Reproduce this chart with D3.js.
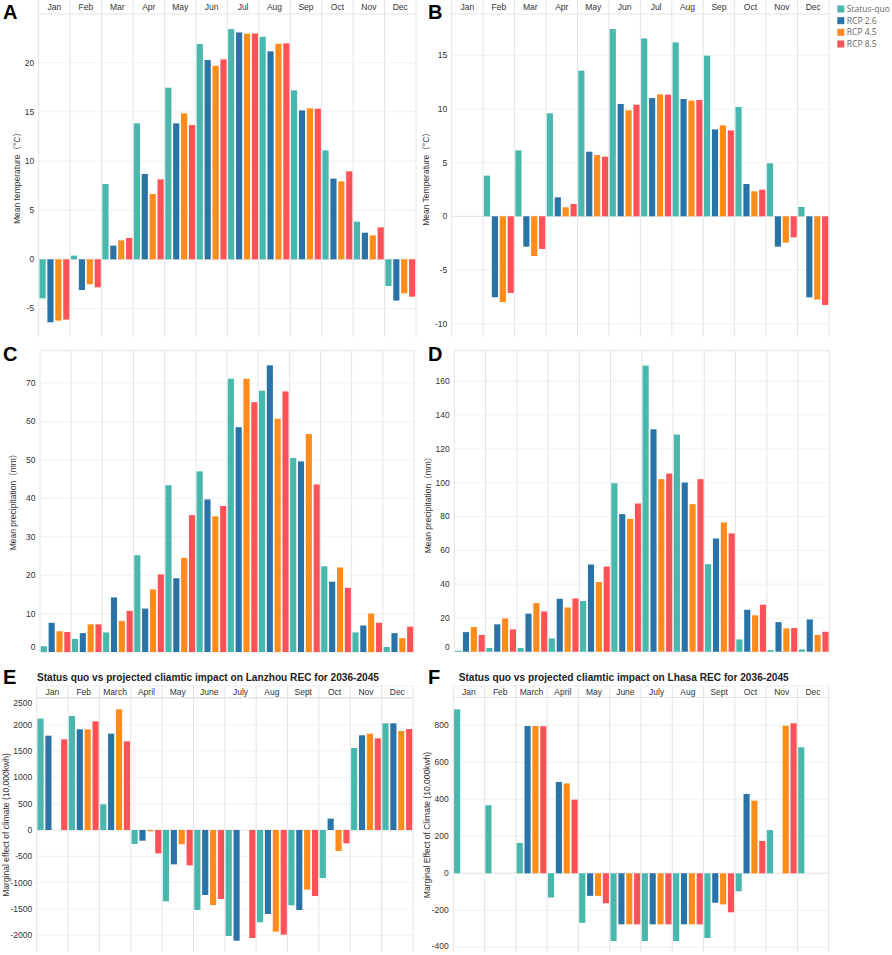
<!DOCTYPE html>
<html><head><meta charset="utf-8">
<script src="https://cdn.jsdelivr.net/npm/d3@7"></script>
<style>body{margin:0;background:#fff}svg{display:block}</style>
</head><body><svg id="c" width="892" height="955"></svg>
<script>
// ---------- data ----------
const months = ["Jan","Feb","Mar","Apr","May","Jun","Jul","Aug","Sep","Oct","Nov","Dec"];
const monthsLong = ["Jan","Feb","March","April","May","June","July","Aug","Sept","Oct","Nov","Dec"];
const seriesNames = ["Status-quo","RCP 2.6","RCP 4.5","RCP 8.5"];

// A: Lanzhou mean temperature
const tempLanzhouSQ = [-3.97, 0.37, 7.66, 13.83, 17.46, 21.9, 23.42, 22.64, 17.19, 11.08, 3.83, -2.71];
const tempLanzhou26 = [-6.41, -3.12, 1.39, 8.68, 13.83, 20.27, 23.08, 21.15, 15.15, 8.2, 2.71, -4.2];
const tempLanzhou45 = [-6.24, -2.54, 1.93, 6.64, 14.85, 19.69, 22.95, 21.93, 15.36, 7.93, 2.44, -3.46];
const tempLanzhou85 = [-6.14, -2.85, 2.17, 8.14, 13.66, 20.34, 22.98, 21.97, 15.32, 8.95, 3.25, -3.8];

// B: Lhasa mean temperature
const tempLhasaSQ = [null, 3.79, 6.15, 9.6, 13.57, 17.45, 16.58, 16.21, 14.97, 10.19, 4.94, 0.87];
const tempLhasa26 = [null, -7.55, -2.83, 1.77, 6.02, 10.47, 11.02, 10.93, 8.1, 3.01, -2.83, -7.55];
const tempLhasa45 = [null, -8.0, -3.7, 0.84, 5.71, 9.88, 11.37, 10.78, 8.48, 2.33, -2.45, -7.76];
const tempLhasa85 = [null, -7.14, -3.04, 1.15, 5.56, 10.4, 11.34, 10.84, 8.01, 2.48, -1.96, -8.26];

// C: Lanzhou mean precipitation
const precLanzhouSQ = [1.5, 3.4, 5.1, 25.2, 43.4, 47.0, 71.1, 68.0, 50.5, 22.3, 5.1, 1.3];
const precLanzhou26 = [7.6, 4.9, 14.2, 11.3, 19.2, 39.7, 58.5, 74.6, 49.6, 18.3, 6.9, 4.9];
const precLanzhou45 = [5.4, 7.2, 8.1, 16.3, 24.5, 35.3, 71.1, 60.7, 56.7, 22.0, 10.0, 3.6];
const precLanzhou85 = [5.2, 7.2, 10.7, 20.2, 35.6, 38.0, 65.0, 67.8, 43.6, 16.7, 7.6, 6.6];

// D: Lhasa mean precipitation
const precLhasaSQ = [0.6, 2.2, 2.2, 7.9, 30.0, 99.7, 169.3, 128.5, 51.8, 7.3, 1.0, 1.4];
const precLhasa26 = [11.6, 16.2, 22.5, 31.3, 51.6, 81.4, 131.6, 100.1, 67.0, 24.8, 17.5, 19.1];
const precLhasa45 = [14.6, 19.7, 28.8, 26.2, 41.2, 78.6, 102.1, 87.3, 76.5, 21.5, 13.8, 9.9];
const precLhasa85 = [9.9, 13.2, 23.8, 31.5, 50.4, 87.7, 105.4, 102.1, 70.0, 27.8, 14.0, 11.8];

// E: Lanzhou marginal effect of climate (10,000kwh)
const effLanzhouSQ = [2117, 2167, 488, -266, -1356, -1521, -2015, -1755, -1432, -913, 1559, 2028];
const effLanzhou26 = [1793, 1914, 1831, -203, -653, -1236, -2104, -1597, -1521, 215, 1800, 2028];
const effLanzhou45 = [0, 1914, 2294, -25, -272, -1426, 0, -1933, -1134, -399, 1831, 1882];
const effLanzhou85 = [1724, 2066, 1686, -444, -672, -1312, -2053, -1990, -1255, -253, 1743, 1920];

// F: Lhasa marginal effect of climate (10,000kwh)
const effLhasaSQ = [886, 368, 164, -131, -268, -366, -366, -366, -350, -97, 234, 681];
const effLhasa26 = [null, null, 796, 494, -122, -276, -276, -276, -159, 429, null, null];
const effLhasa45 = [null, null, 796, 486, -122, -276, -276, -276, -168, 393, 798, null];
const effLhasa85 = [null, null, 795, 398, -162, -276, -276, -276, -211, 175, 811, null];

const ticksA = [-5, 0, 5, 10, 15, 20];
const ticksB = [-10, -5, 0, 5, 10, 15];
const ticksC = [0, 10, 20, 30, 40, 50, 60, 70];
const ticksD = [0, 20, 40, 60, 80, 100, 120, 140, 160];
const ticksE = [-2000, -1500, -1000, -500, 0, 500, 1000, 1500, 2000, 2500];
const ticksF = [-400, -200, 0, 200, 400, 600, 800];

const colors = ["#48B8AE", "#2A73A6", "#FF8B1A", "#FF5257"];
const FONT = "'Liberation Sans', Arial, 'Noto Sans CJK SC', sans-serif";

// ---------- layout ----------
const panels = [
  {letter:"A", lx:3, ly:19, left:38.7, right:416, headerTop:0, top:14, bottom:337, zero:259.3, ppu:9.83,
   ticks:ticksA, labels:months, data:[tempLanzhouSQ,tempLanzhou26,tempLanzhou45,tempLanzhou85],
   ytitle:"Mean temperature（°C）", ytx:16.7, yty:176},
  {letter:"B", lx:428, ly:19, left:451.7, right:829, headerTop:0, top:14, bottom:337, zero:216.3, ppu:10.73,
   ticks:ticksB, labels:months, data:[tempLhasaSQ,tempLhasa26,tempLhasa45,tempLhasa85],
   ytitle:"Mean Temperature（°C）", ytx:426, yty:177},
  {letter:"C", lx:3, ly:361, left:40, right:414, top:350.7, bottom:653, zero:652, ppu:3.843,
   ticks:ticksC, labels:null, data:[precLanzhouSQ,precLanzhou26,precLanzhou45,precLanzhou85],
   ytitle:"Mean precipitation（mm）", ytx:13.5, yty:500},
  {letter:"D", lx:428, ly:361, left:454.3, right:829.3, top:350.7, bottom:653, zero:651.7, ppu:1.69,
   ticks:ticksD, labels:null, data:[precLhasaSQ,precLhasa26,precLhasa45,precLhasa85],
   ytitle:"Mean precipitation（mm）", ytx:428, yty:503},
  {letter:"E", lx:3, ly:683.5, left:36.7, right:413, headerTop:686, top:697.5, bottom:952, zero:830, ppu:0.0526,
   ticks:ticksE, labels:monthsLong, data:[effLanzhouSQ,effLanzhou26,effLanzhou45,effLanzhou85],
   title:"Status quo vs projected cliamtic impact on Lanzhou REC for 2036-2045", tx:37, ty:680.5, tw:342,
   ytitle:"Marginal effect of climate (10,000kwh)", ytx:6.5, yty:825},
  {letter:"F", lx:428, ly:683.5, left:453.3, right:828.7, headerTop:686, top:697.5, bottom:952, zero:873.3, ppu:0.185,
   ticks:ticksF, labels:monthsLong, data:[effLhasaSQ,effLhasa26,effLhasa45,effLhasa85],
   title:"Status quo vs projected cliamtic impact on Lhasa REC for 2036-2045", tx:458.7, ty:680.5, tw:330,
   ytitle:"Marginal Effect of Climate (10,000kwh)", ytx:426.7, yty:825}
];

const svg = d3.select("#c");

panels.forEach(p => {
  const g = svg.append("g");
  const topVal = (p.zero - p.top) / p.ppu;
  const botVal = -(p.bottom - p.zero) / p.ppu;
  const y = d3.scaleLinear().domain([botVal, topVal]).range([p.bottom, p.top]);
  const x0 = d3.scaleBand().domain(d3.range(12)).range([p.left, p.right]).padding(0);
  const x1 = d3.scaleBand().domain(d3.range(4)).range([0, x0.bandwidth()]).paddingInner(0.22).paddingOuter(0.1);

  // horizontal grid
  g.selectAll(".hg").data(p.ticks).enter().append("line")
    .attr("x1", p.left).attr("x2", p.right)
    .attr("y1", d => y(d)).attr("y2", d => y(d))
    .attr("stroke", d => d === 0 ? "#e2e2e2" : "#f1f1f1").attr("stroke-width", 1);

  // vertical month dividers (including header)
  const vTop = p.headerTop !== undefined ? p.headerTop : p.top;
  g.selectAll(".vg").data(d3.range(13)).enter().append("line")
    .attr("x1", i => i < 12 ? x0(i) : p.right).attr("x2", i => i < 12 ? x0(i) : p.right)
    .attr("y1", vTop).attr("y2", p.bottom)
    .attr("stroke", "#e4e4e4").attr("stroke-width", 1);

  // plot top border / header separator
  g.append("line").attr("x1", p.left).attr("x2", p.right).attr("y1", p.top).attr("y2", p.top)
    .attr("stroke", "#e4e4e4");
  if (p.headerTop !== undefined && p.headerTop > 0) {
    g.append("line").attr("x1", p.left).attr("x2", p.right).attr("y1", p.headerTop).attr("y2", p.headerTop)
      .attr("stroke", "#ececec");
  }

  // bars
  const bars = [];
  p.data.forEach((arr, s) => arr.forEach((v, m) => { if (v !== null && v !== 0) bars.push({m, s, v}); }));
  g.selectAll(".bar").data(bars).enter().append("rect")
    .attr("x", d => x0(d.m) + x1(d.s))
    .attr("width", x1.bandwidth())
    .attr("y", d => Math.min(y(d.v), y(0)))
    .attr("height", d => Math.abs(y(d.v) - y(0)))
    .attr("fill", d => colors[d.s]);

  // y tick labels
  g.selectAll(".yt").data(p.ticks).enter().append("text")
    .attr("x", p.left - 4.5)
    .attr("y", d => Math.max(p.top + 5.5, Math.min(p.bottom - 6, y(d))))
    .attr("dy", "0.35em").attr("text-anchor", "end")
    .attr("font-family", FONT).attr("font-size", 8.5).attr("fill", "#333")
    .text(d => d);

  // month header labels
  if (p.labels) {
    const hy = (p.headerTop + p.top) / 2;
    g.selectAll(".ml").data(p.labels).enter().append("text")
      .attr("x", (d, i) => x0(i) + x0.bandwidth() / 2)
      .attr("y", hy).attr("dy", "0.35em").attr("text-anchor", "middle")
      .attr("font-family", FONT).attr("font-size", 8.5).attr("fill", "#333")
      .text(d => d);
  }

  // y title
  g.append("text")
    .attr("transform", `translate(${p.ytx},${p.yty}) rotate(-90)`)
    .attr("text-anchor", "middle").attr("dy", "0.35em")
    .attr("font-family", FONT).attr("font-size", 8.5).attr("fill", "#333")
    .text(p.ytitle);

  // panel title
  if (p.title) {
    g.append("text").attr("x", p.tx).attr("y", p.ty)
      .attr("font-family", FONT).attr("font-size", 10.5).attr("font-weight", "bold").attr("fill", "#222")
      .attr("textLength", p.tw).attr("lengthAdjust", "spacingAndGlyphs")
      .text(p.title);
  }

  // panel letter
  g.append("text").attr("x", p.lx).attr("y", p.ly)
    .attr("font-family", FONT).attr("font-size", 20).attr("font-weight", "bold").attr("fill", "#000")
    .text(p.letter);
});

// legend
const lg = svg.append("g").attr("transform", "translate(837.3,0)");
const legY = [9, 20.7, 32.3, 44];
lg.selectAll("rect").data(seriesNames).enter().append("rect")
  .attr("x", 0).attr("y", (d, i) => legY[i] - 3.5).attr("width", 7).attr("height", 7)
  .attr("fill", (d, i) => colors[i]);
lg.selectAll("text").data(seriesNames).enter().append("text")
  .attr("x", 9.5).attr("y", (d, i) => legY[i]).attr("dy", "0.35em")
  .attr("font-family", "'Open Sans', 'DejaVu Sans', sans-serif").attr("font-size", 8.5).attr("fill", "#666")
  .text(d => d);
</script>
</body></html>
